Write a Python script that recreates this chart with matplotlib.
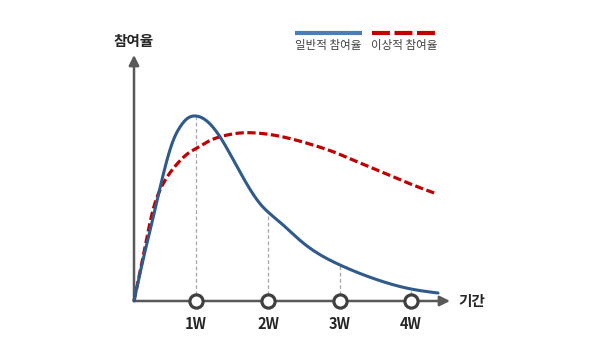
import numpy as np
import matplotlib
matplotlib.use("Agg")
import matplotlib.pyplot as plt

plt.rcParams['font.family'] = ['Noto Sans CJK KR', 'DejaVu Sans']

# Participation curves (x: elapsed time, y: participation level)
normal_x = [0, 9, 19, 26, 33, 39, 46, 54, 62, 74, 88, 101, 114, 128, 134,
            148, 168, 206, 241, 277, 304]
normal_y = [0, 41, 83, 113, 141, 160, 174, 183, 185, 179, 161, 138, 115, 95, 89,
            77, 59, 36, 22, 12, 8]

ideal_x = [0, 9, 19, 29, 43, 56, 63, 76, 89, 106, 116, 126, 139, 159,
           179, 199, 219, 239, 259, 279, 303]
ideal_y = [0, 44, 91, 117, 137, 149, 153, 160.5, 165, 168, 168.3, 167.7, 166,
           161.7, 156, 149.3, 141, 132.7, 124.3, 116, 107]

week_pos = [62, 134, 206, 277]
week_labels = ['1W', '2W', '3W', '4W']

legend_labels = ['일반적 참여율', '이상적 참여율']
y_title = '참여율'
x_title = '기간'

BLUE = '#2F5A8C'
BLUE_LEG = '#4A7EBB'
RED = '#C00000'
AXIS = '#595959'


def spline(xs, ys, n=400):
    """Natural cubic spline y(x) through the given points."""
    x = np.asarray(xs, float)
    y = np.asarray(ys, float)
    m = len(x)
    h = np.diff(x)
    A = np.zeros((m, m))
    r = np.zeros(m)
    A[0, 0] = A[-1, -1] = 1.0
    for i in range(1, m - 1):
        A[i, i - 1] = h[i - 1]
        A[i, i] = 2 * (h[i - 1] + h[i])
        A[i, i + 1] = h[i]
        r[i] = 6 * ((y[i + 1] - y[i]) / h[i] - (y[i] - y[i - 1]) / h[i - 1])
    M = np.linalg.solve(A, r)
    xx = np.linspace(x[0], x[-1], n)
    k = np.clip(np.searchsorted(x, xx) - 1, 0, m - 2)
    x0, x1, hk = x[k], x[k + 1], h[k]
    yy = (M[k] * (x1 - xx) ** 3 / (6 * hk) + M[k + 1] * (xx - x0) ** 3 / (6 * hk)
          + (y[k] / hk - M[k] * hk / 6) * (x1 - xx)
          + (y[k + 1] / hk - M[k + 1] * hk / 6) * (xx - x0))
    return xx, yy


fig = plt.figure(figsize=(6.10, 3.48), dpi=100)
ax = fig.add_axes([0, 0, 1, 1])
ax.set_xlim(-134, 610 - 134)
ax.set_ylim(301 - 348, 301)
ax.axis('off')

# axes with arrows
ax.annotate('', xy=(0, 246), xytext=(0, 0),
            arrowprops=dict(arrowstyle='-|>,head_length=0.6,head_width=0.3',
                            color=AXIS, lw=1.8, shrinkA=0, shrinkB=0))
ax.annotate('', xy=(316, 0), xytext=(0, 0),
            arrowprops=dict(arrowstyle='-|>,head_length=0.6,head_width=0.3',
                            color=AXIS, lw=1.8, shrinkA=0, shrinkB=0))

bx, by = spline(normal_x, normal_y)
rx, ry = spline(ideal_x, ideal_y)

# dashed guides from each week up to the normal curve
for wp in week_pos:
    yv = np.interp(wp, bx, by)
    ax.plot([wp, wp], [0, yv], color='#A6A6A6', lw=0.9, ls=(0, (3, 2)), zorder=2)

ax.plot(rx, ry, color=RED, lw=2.3, ls=(0, (2.6, 1.1)), zorder=3,
        dash_capstyle='butt')
ax.plot(bx, by, color=BLUE, lw=2.2, zorder=4, solid_capstyle='round')

ax.plot(week_pos, [0] * len(week_pos), 'o', ms=9.5, mfc='white',
        mec='#404040', mew=2.3, zorder=5)
for wp, lab in zip(week_pos, week_labels):
    ax.text(wp, -23, lab, ha='center', va='center', fontsize=10.5,
            fontweight='bold', color='#262626')

ax.text(0, 260, y_title, ha='center', va='center', fontsize=10.5,
        fontweight='bold', color='#262626')
ax.text(338, 0, x_title, ha='center', va='center', fontsize=10.5,
        fontweight='bold', color='#262626')

# legend
ax.plot([161, 228], [268, 268], color=BLUE_LEG, lw=3, solid_capstyle='butt')
ax.plot([238, 304], [268, 268], color=RED, lw=3, ls=(0, (4.3, 1.1)),
        dash_capstyle='butt')
ax.text(194, 255, legend_labels[0], ha='center', va='center', fontsize=8.3,
        color='#404040')
ax.text(270, 255, legend_labels[1], ha='center', va='center', fontsize=8.3,
        color='#404040')

fig.savefig('out.png', dpi=100)
